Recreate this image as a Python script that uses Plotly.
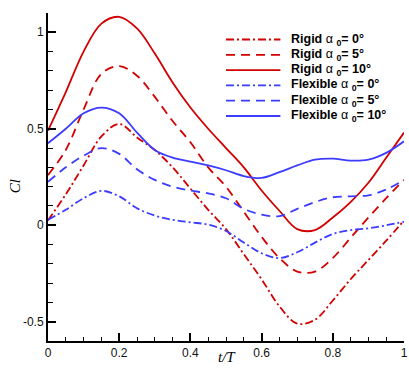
import plotly.graph_objects as go

# ---------------- data ----------------
t = [0.0, 0.05, 0.10, 0.15, 0.20, 0.25, 0.30, 0.35, 0.40, 0.45, 0.50,
     0.55, 0.60, 0.65, 0.70, 0.75, 0.80, 0.85, 0.90, 0.95, 1.0]

rigid_0 = [0.025, 0.16, 0.31, 0.46, 0.525, 0.455, 0.39, 0.30, 0.19, 0.08, -0.02,
           -0.15, -0.28, -0.42, -0.51, -0.49, -0.39, -0.28, -0.18, -0.08, 0.025]
rigid_5 = [0.26, 0.39, 0.60, 0.785, 0.825, 0.775, 0.665, 0.54, 0.43, 0.30, 0.20,
           0.07, -0.06, -0.17, -0.24, -0.24, -0.17, -0.065, 0.04, 0.14, 0.235]
rigid_10 = [0.49, 0.69, 0.90, 1.045, 1.08, 1.02, 0.89, 0.74, 0.61, 0.50, 0.40,
            0.30, 0.18, 0.075, -0.02, -0.025, 0.04, 0.12, 0.22, 0.35, 0.48]
flex_0 = [0.028, 0.08, 0.14, 0.178, 0.15, 0.088, 0.05, 0.028, 0.015, 0.003, -0.03,
          -0.09, -0.145, -0.17, -0.14, -0.09, -0.045, -0.025, -0.016, 0.0, 0.018]
flex_5 = [0.225, 0.30, 0.36, 0.40, 0.37, 0.29, 0.235, 0.20, 0.18, 0.165, 0.14,
          0.085, 0.055, 0.047, 0.085, 0.12, 0.145, 0.15, 0.155, 0.185, 0.235]
flex_10 = [0.425, 0.50, 0.58, 0.61, 0.58, 0.48, 0.39, 0.35, 0.33, 0.31, 0.285,
           0.255, 0.245, 0.275, 0.31, 0.34, 0.345, 0.335, 0.34, 0.375, 0.435]

series_values = [rigid_0, rigid_5, rigid_10, flex_0, flex_5, flex_10]
series_labels = ["Rigid α<sub>0</sub>= 0°", "Rigid α<sub>0</sub>= 5°", "Rigid α<sub>0</sub>= 10°",
                 "Flexible α<sub>0</sub>= 0°", "Flexible α<sub>0</sub>= 5°", "Flexible α<sub>0</sub>= 10°"]
legend_html = ["<b>Rigid </b>α <b><sub>0</sub>= 0°</b>", "<b>Rigid </b>α <b><sub>0</sub>= 5°</b>",
               "<b>Rigid </b>α <b><sub>0</sub>= 10°</b>", "<b>Flexible </b>α <b><sub>0</sub>= 0°</b>",
               "<b>Flexible </b>α <b><sub>0</sub>= 5°</b>", "<b>Flexible </b>α <b><sub>0</sub>= 10°</b>"]
x_ticks = [0, 0.2, 0.4, 0.6, 0.8, 1]
x_ticktext = ["0", "0.2", "0.4", "0.6", "0.8", "1"]
y_ticks = [-0.5, 0, 0.5, 1]
y_ticktext = ["-0.5", "0", "0.5", "1"]

# ---------------- styles ----------------
RED = "#d20000"
BLUE = "#3c3cff"
DASHDOT = "8px,3px,2px,3px"
DASH = "9px,6px"
colors = [RED, RED, RED, BLUE, BLUE, BLUE]
dashes = [DASHDOT, DASH, "solid", DASHDOT, DASH, "solid"]

fig = go.Figure()
for vals, lab, c, d in zip(series_values, series_labels, colors, dashes):
    fig.add_trace(go.Scatter(x=t, y=vals, mode="lines", name=lab,
                             line=dict(color=c, dash=d, width=1.8, shape="spline", smoothing=1.0),
                             showlegend=False))

# ---------------- layout geometry ----------------
W, H = 409, 370
L, R_, T, B = 48, 1, 13, 29
pw, ph = W - L - R_, H - T - B
def px_x(px):  # window pixel -> paper coordinate
    return (px - L) / pw
def px_y(py):
    return (H - B - py) / ph

row_y = [39.5, 54.8, 70.1, 85.4, 100.7, 116.0]
shapes = []
annotations = []
for ry, c, d, txt in zip(row_y, colors, dashes, legend_html):
    shapes.append(dict(type="line", xref="paper", yref="paper",
                       x0=px_x(228), x1=px_x(283), y0=px_y(ry), y1=px_y(ry),
                       line=dict(color=c, width=1.8, dash=d)))
    annotations.append(dict(xref="paper", yref="paper", x=px_x(292), y=px_y(ry),
                            xanchor="left", yanchor="middle", showarrow=False,
                            text=txt, font=dict(family="Liberation Sans, Arial", size=12.5, color="black")))

annotations.append(dict(xref="paper", yref="paper", x=px_x(15), y=px_y(186),
                        xanchor="center", yanchor="middle", showarrow=False, textangle=-90,
                        text="<i>Cl</i>", font=dict(family="Liberation Serif, Times New Roman", size=15, color="black")))
annotations.append(dict(xref="paper", yref="paper", x=px_x(229), y=px_y(357),
                        xanchor="center", yanchor="middle", showarrow=False,
                        text="<i>t/T</i>", font=dict(family="Liberation Serif, Times New Roman", size=15, color="black")))

axis_common = dict(showgrid=False, zeroline=False, showline=True, linecolor="black", linewidth=2,
                   ticks="inside", tickcolor="black", tickwidth=1.5, ticklen=8,
                   tickfont=dict(family="Liberation Sans, Arial", size=12, color="#111"))

fig.update_layout(
    width=W, height=H,
    margin=dict(l=L, r=R_, t=T, b=B, pad=0),
    paper_bgcolor="white", plot_bgcolor="white",
    showlegend=False,
    xaxis=dict(range=[0, 1], tickvals=x_ticks, ticktext=x_ticktext, ticklabeloverflow="allow",
               minor=dict(dtick=0.05, ticks="inside", ticklen=4.5, tickcolor="black", tickwidth=1),
               **axis_common),
    yaxis=dict(range=[-0.6, 1.1], tickvals=y_ticks, ticktext=y_ticktext,
               minor=dict(dtick=0.1, ticks="inside", ticklen=4.5, tickcolor="black", tickwidth=1),
               **axis_common),
    shapes=shapes,
    annotations=annotations,
)

# remove the page's default body margin so the figure fills the window exactly
page_fix = ("document.documentElement.style.margin='0';document.documentElement.style.overflow='hidden';"
            "document.body.style.margin='0';document.body.style.padding='0';document.body.style.overflow='hidden';")

fig.write_html("out.html", post_script=page_fix, config={"displayModeBar": False})
